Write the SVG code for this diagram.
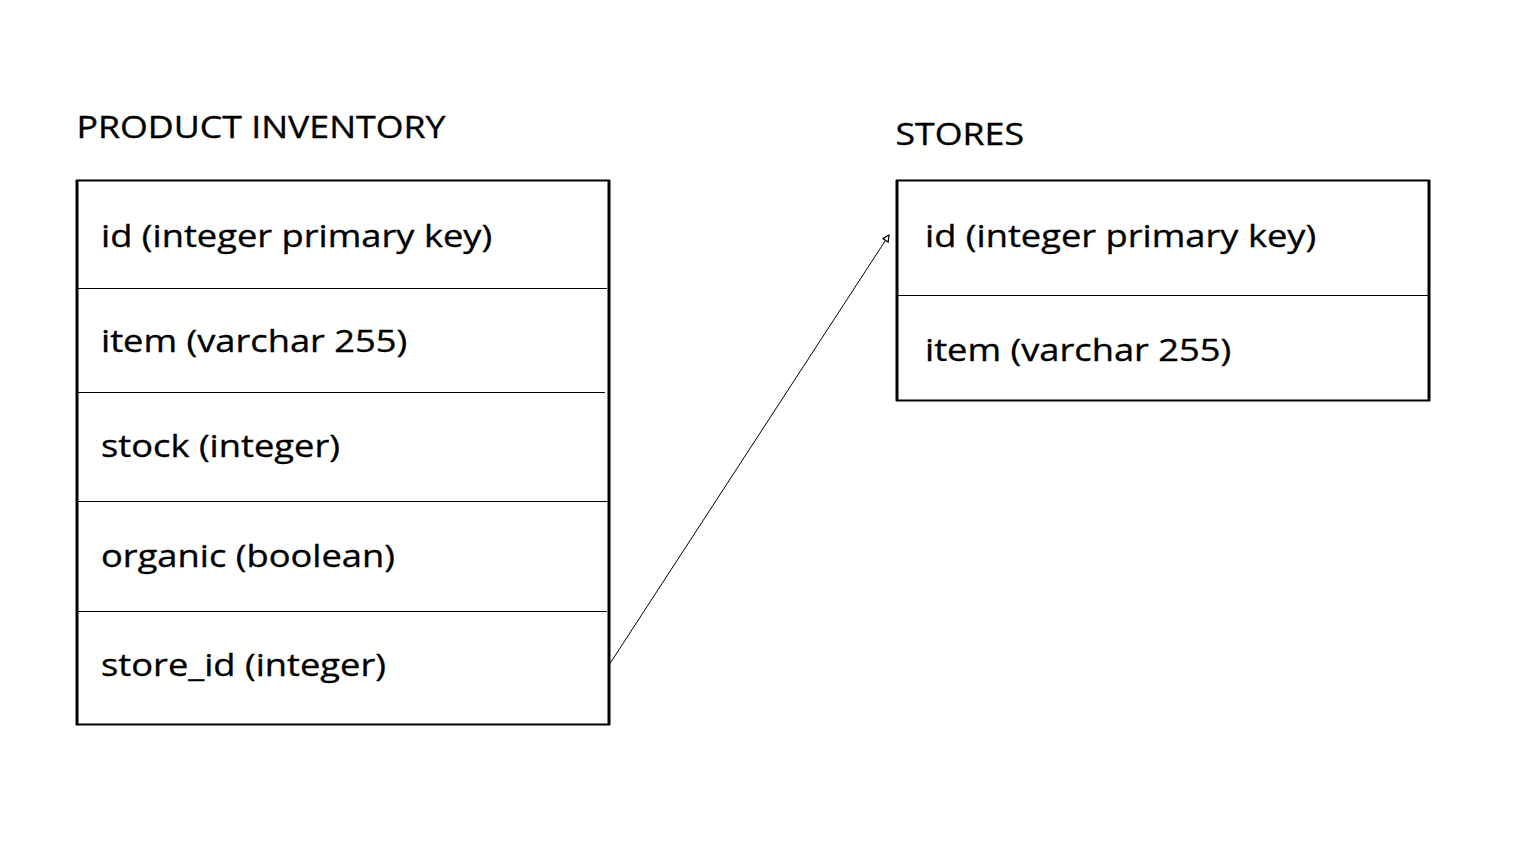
<svg xmlns="http://www.w3.org/2000/svg" width="1513" height="862" viewBox="0 0 1513 862">
<defs>
<style>
.box{fill:#fff;stroke:#000;stroke-width:2}
.side{stroke:#000;stroke-width:3}
.sep{stroke:#000;stroke-width:1.2}
.t{font-family:"Open Sans","Liberation Sans",sans-serif;font-size:31.3px;fill:#000;stroke:#000;stroke-width:0.35}
.h{font-family:"Open Sans","Liberation Sans",sans-serif;font-size:30.8px;fill:#000;stroke:#000;stroke-width:0.35}
.c{stroke:#000;stroke-width:1;fill:none}
</style>
<marker id="arr" viewBox="0 0 10 10" refX="9" refY="5" markerWidth="8" markerHeight="8" markerUnits="userSpaceOnUse" orient="auto">
<path d="M1,1 L9,5 L1,9 Z" fill="#fff" stroke="#000" stroke-width="1.5"/>
</marker>
</defs>
<rect width="1513" height="862" fill="#fff"/>
<g id="product-inventory">
<text class="h" transform="translate(76.5,138.3) scale(1.16,1)">PRODUCT INVENTORY</text>
<rect class="box" x="77" y="180.5" width="532" height="544"/>
<line class="side" x1="77" y1="180" x2="77" y2="725"/>
<line class="side" x1="609" y1="180" x2="609" y2="725"/>
<line class="sep" x1="77" y1="288.5" x2="607" y2="288.5"/>
<line class="sep" x1="77" y1="392.5" x2="605" y2="392.5"/>
<line class="sep" x1="77" y1="501.5" x2="608" y2="501.5"/>
<line class="sep" x1="77" y1="611.5" x2="607" y2="611.5"/>
<text class="t" transform="translate(101,247) scale(1.16,1)">id (integer primary key)</text>
<text class="t" transform="translate(101,351.5) scale(1.16,1)">item (varchar 255)</text>
<text class="t" transform="translate(101,457) scale(1.16,1)">stock (integer)</text>
<text class="t" transform="translate(101,566.5) scale(1.16,1)">organic (boolean)</text>
<text class="t" transform="translate(101,676) scale(1.16,1)">store_id (integer)</text>
</g>
<g id="stores">
<text class="h" transform="translate(895.5,145) scale(1.16,1)">STORES</text>
<rect class="box" x="897" y="180.5" width="532" height="220"/>
<line class="side" x1="897" y1="180" x2="897" y2="401"/>
<line class="side" x1="1429" y1="180" x2="1429" y2="401"/>
<line class="sep" x1="897" y1="295.5" x2="1429" y2="295.5"/>
<text class="t" transform="translate(925,247) scale(1.16,1)">id (integer primary key)</text>
<text class="t" transform="translate(925,361) scale(1.16,1)">item (varchar 255)</text>
</g>
<g id="connectors">
<line class="c" x1="609" y1="665" x2="889" y2="235" marker-end="url(#arr)"/>
</g>
</svg>
